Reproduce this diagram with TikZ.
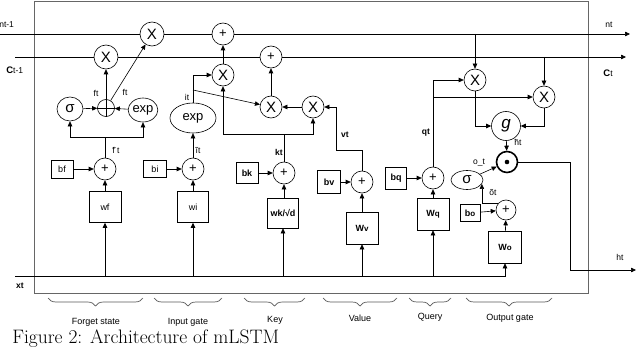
\documentclass[tikz,border=0pt]{standalone}
\usepackage{fontspec}
\newfontfamily\lab{Liberation Sans}
\usetikzlibrary{arrows.meta,shapes.geometric,decorations.pathreplacing,calc}
\newcommand{\tildeon}[1]{\makebox[0pt][l]{\raisebox{2.2pt}{\fontsize{7}{7}\selectfont\~{}}}#1}
\begin{document}
\begin{tikzpicture}[x=1pt,y=-1pt,line width=0.6pt,
 arr/.style={-{Triangle[length=5pt,width=4.5pt]}},
 op/.style={circle,draw,fill=white,inner sep=0pt,minimum size=22pt,font=\lab\fontsize{15}{15}\selectfont},
 plus/.style={op,font=\lab\fontsize{13}{13}\selectfont},
 ell/.style={ellipse,draw,fill=white,inner sep=0pt,font=\lab\fontsize{13}{13}\selectfont},
 box/.style={rectangle,draw,fill=white,inner sep=0pt,font=\lab\fontsize{9}{9}\selectfont},
 lbl/.style={inner sep=0pt,font=\lab\fontsize{8.5}{8.5}\selectfont},
 blbl/.style={inner sep=0pt,font=\lab\bfseries\fontsize{8.5}{8.5}\selectfont},
 grp/.style={inner sep=0pt,font=\lab\fontsize{9}{9}\selectfont},
 brc/.style={decorate,decoration={brace,mirror,amplitude=8pt},draw=black!65,line width=0.7pt}]
\useasboundingbox (0,0) rectangle (640,353);
% frame
\draw[black!60,line width=1pt] (34,2) rectangle (588,293);
% operators
\node[op,minimum size=24pt] (X1) at (152,34) {X};
\node[op,minimum size=24pt] (X2) at (106,57) {X};
\node[plus] (P1) at (223,34) {+};
\node[plus] (P2) at (271,57) {+};
\node[op] (X3) at (223,75) {X};
\node[op] (X4) at (271,107) {X};
\node[op] (X5) at (313,107) {X};
\node[op] (X6) at (475,80) {X};
\node[op] (X7) at (544,97) {X};
\node[op,minimum size=29pt,font=\lab\itshape\fontsize{17}{17}\selectfont] (G) at (506,126) {g};
\node[op,line width=1.6pt,minimum size=21pt] (D) at (507,162) {};
\fill (D.center) circle (2.3pt);
% forget gate
\node[circle,draw,fill=white,minimum size=17pt,inner sep=0pt] (FX) at (106,108) {};
\draw (FX.north) -- (FX.south) (FX.west) -- (FX.east);
\node[ell,minimum width=26pt,minimum height=24pt,font=\lab\fontsize{15}{15}\selectfont] (SF) at (70,109) {σ};
\node[ell,minimum width=29pt,minimum height=24pt] (EF) at (143,110) {exp};
\node[plus] (AF) at (105,169) {+};
\node[box,minimum width=22pt,minimum height=18pt] (BF) at (62,169) {bf};
\node[box,minimum width=32pt,minimum height=31pt] (WF) at (105,207) {wf};
% input gate
\node[ell,minimum width=46pt,minimum height=30pt] (EI) at (193,118) {exp};
\node[plus] (AI) at (193,169) {+};
\node[box,minimum width=23pt,minimum height=17pt] (BI) at (155,169) {bi};
\node[box,minimum width=31pt,minimum height=31pt] (WI) at (193,207) {wi};
% key
\node[box,minimum width=22pt,minimum height=21pt] (BK) at (247,173) {\bfseries bk};
\node[plus] (AK) at (284,173) {+};
\node[box,minimum width=31pt,minimum height=30pt] (WK) at (283,213) {\bfseries wk/√d};
% value
\node[box,minimum width=23pt,minimum height=23pt] (BV) at (329,182) {\bfseries bv};
\node[plus] (AV) at (362,182) {+};
\node[box,minimum width=32pt,minimum height=32pt] (WV) at (362,228) {\bfseries W\fontsize{8}{8}\selectfont v};
% query
\node[box,minimum width=21pt,minimum height=22pt] (BQ) at (396,178) {\bfseries bq};
\node[plus] (AQ) at (433,178) {+};
\node[box,minimum width=32pt,minimum height=32pt] (WQ) at (433,214) {\bfseries W\fontsize{8}{8}\selectfont q};
% output
\node[ell,minimum width=32pt,minimum height=19pt,font=\lab\fontsize{15}{15}\selectfont] (SO) at (467,180) {σ};
\node[plus,minimum size=20pt] (AO) at (506,210) {+};
\node[box,minimum width=20pt,minimum height=17pt] (BO) at (470,213) {\bfseries b\fontsize{8}{8}\selectfont o};
\node[box,minimum width=33pt,minimum height=32pt] (WO) at (505,247) {\bfseries W\fontsize{8}{8}\selectfont o};
% coordinates
\coordinate (ntL) at (0,34);
\coordinate (ntR) at (630,34);
\coordinate (cL) at (15,57);
\coordinate (cR) at (626,57);
\coordinate (xtL) at (15,276);
\coordinate (fj) at (105,137);
\coordinate (ij) at (193,90);
\coordinate (kj) at (284,134);
\coordinate (vj) at (336,150);
\coordinate (qj) at (433,97);
\coordinate (n6) at (475,34);
\coordinate (c7) at (544,57);
\coordinate (hc) at (570,162);
\coordinate (hR) at (636,270);
% state lines
\draw (ntL) -- (X1) -- (P1);
\draw[arr] (P1) -- (ntR);
\draw (cL) -- (X2) -- (P2);
\draw[arr] (P2) -- (cR);
% forget connectors
\draw[arr] (SF) -- (FX);
\draw[arr] (EF) -- (FX);
\draw[arr] (FX) -- (X2);
\draw[arr] (FX) -- (X1);
\draw (AF) -- (fj);
\draw[arr] (fj) -| (SF);
\draw[arr] (fj) -| (EF);
\draw[arr] (BF) -- (AF);
\draw[arr] (WF) -- (AF);
\draw[arr] (WF |- xtL) -- (WF);
% input connectors
\draw[arr] (BI) -- (AI);
\draw[arr] (WI) -- (AI);
\draw[arr] (WI |- xtL) -- (WI);
\draw[arr] (AI) -- (EI);
\draw[arr] (EI) |- (X3);
\draw[arr] (ij) -- (X4);
\draw[arr] (X3) -- (P1);
\draw[arr] (X4) -- (P2);
\draw[arr] (X5) -- (X4);
% key connectors
\draw[arr] (BK) -- (AK);
\draw[arr] (WK.north -| AK) -- (AK);
\draw[arr] (WK |- xtL) -- (WK);
\draw (AK) -- (kj);
\draw[arr] (kj) -| (X3);
\draw[arr] (kj) -| (X5);
% value connectors
\draw[arr] (BV) -- (AV);
\draw[arr] (WV) -- (AV);
\draw[arr] (WV |- xtL) -- (WV);
\draw[arr] (AV) |- (vj) |- (X5);
% query connectors
\draw[arr] (BQ) -- (AQ);
\draw[arr] (WQ) -- (AQ);
\draw[arr] (WQ |- xtL) -- (WQ);
\draw[arr] (AQ) |- (X6);
\draw[arr] (qj) -- (X7);
\draw[arr] (n6) -- (X6);
\draw[arr] (c7) -- (X7);
\draw[arr] (X6) |- (G);
\draw[arr] (X7) |- (G);
\draw[arr] (G) -- (D);
% output connectors
\draw[arr] (SO) -- (D);
\draw[arr] (AO.140) -| (SO.-15);
\draw[arr] (BO) -- (AO);
\draw[arr] (WO) -- (AO);
\draw[arr] (xtL) -| (WO);
\draw[arr] (D) -- (hc) |- (hR);
% labels
\node[lbl] (lft1) at (96,93) {ft};
\node[lbl] (lft2) at (125,92) {ft};
\node[lbl] (lfti) at (116,150) {\tildeon{f} t};
\node[lbl] (lit) at (187,97) {it};
\node[lbl] (liti) at (198,150) {ĩt};
\node[blbl] (lkt) at (279,152) {kt};
\node[blbl] (lvt) at (345,135) {vt};
\node[blbl] (lqt) at (426,133) {qt};
\node[lbl] (lht) at (518,142) {\tildeon{h}t};
\node[lbl] (lot) at (479,163) {o\_t};
\node[lbl] (loti) at (493,192) {õt};
\node[lbl,anchor=west] (lnt1) at (-1,25) {nt-1};
\node[lbl,anchor=west] (lct1) at (6,70) {{\bfseries\fontsize{9.5}{9.5}\selectfont C}t-1};
\node[lbl] (lnt) at (609,25) {nt};
\node[lbl] (lct) at (608,73) {{\bfseries\fontsize{9.5}{9.5}\selectfont C}t};
\node[blbl] (lxt) at (20,286) {xt};
\node[lbl] (lhtout) at (620,257) {ht};
% braces
\draw[brc] (48,298) -- (143,298);
\draw[brc] (154,298) -- (222,298);
\draw[brc] (244,298) -- (305,298);
\draw[brc] (323,298) -- (397,298);
\draw[brc] (409,298) -- (451,298);
\draw[brc] (466,298) -- (552,298);
\node[grp] (gf) at (96,322) {Forget state};
\node[grp] (gi) at (188,322) {Input gate};
\node[grp] (gk) at (275,320) {Key};
\node[grp] (gv) at (360,318) {Value};
\node[grp] (gq) at (430,317) {Query};
\node[grp] (go) at (510,318) {Output gate};
% caption
\node[anchor=west,inner sep=0pt,font=\fontsize{19.5}{21}\selectfont] (cap) at (12,339) {Figure 2: Architecture of mLSTM};
\end{tikzpicture}
\end{document}
